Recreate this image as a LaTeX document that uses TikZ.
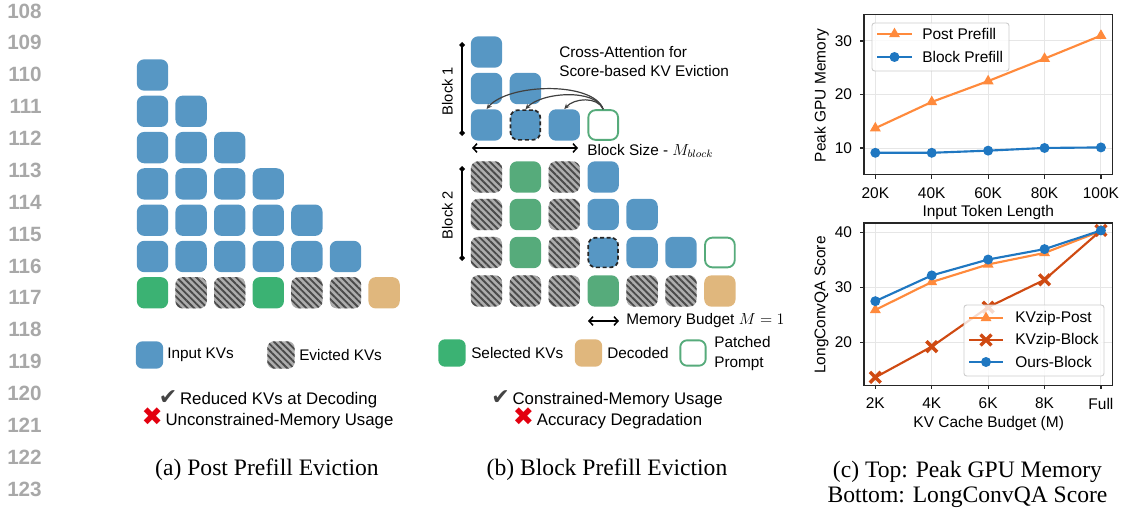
\documentclass[tikz,border=0pt]{standalone}
\usepackage{fontspec}
\setmainfont{Liberation Serif}
\setsansfont{Liberation Sans}
\newfontfamily\symfont{DejaVu Sans}
\usetikzlibrary{arrows.meta, patterns.meta, shapes.geometric, shapes.misc}

\definecolor{kvblue}{HTML}{5797C4}
\definecolor{selgreen}{HTML}{3BB273}
\definecolor{blkgreen}{HTML}{56AB7B}
\definecolor{dectan}{HTML}{E0B77D}
\definecolor{hatchbg}{HTML}{ADADAD}
\definecolor{hatchfg}{HTML}{4A4A4A}
\definecolor{lnogray}{HTML}{A8A8A8}
\definecolor{okgray}{HTML}{444444}
\definecolor{badred}{HTML}{E3000F}
\definecolor{plorange}{HTML}{FF8A3C}
\definecolor{plblue}{HTML}{1F77C1}
\definecolor{plred}{HTML}{CF4A12}
\definecolor{gridgray}{HTML}{E6E6E6}

\newcommand{\okmark}{{\symfont\fontsize{16.5}{15}\selectfont\color{okgray}✔}}
\newcommand{\badmark}{{\symfont\fontsize{19}{15}\selectfont\color{badred}✖}}

\tikzset{
  kv/.style={rectangle, rounded corners=5.5pt, minimum size=23.5pt, inner sep=0pt},
  inkv/.style={kv, fill=kvblue},
  selkv/.style={kv, fill=selgreen},
  blkkv/.style={kv, fill=blkgreen},
  deckv/.style={kv, fill=dectan},
  evkv/.style={kv, preaction={fill=hatchbg},
    pattern={Lines[angle=-45,distance=3.5pt,line width=1.4pt]}, pattern color=hatchfg},
  dashkv/.style={kv, minimum size=22.3pt, fill=kvblue, draw=black!85, line width=1.3pt,
    dash pattern=on 3pt off 2pt},
  patchkv/.style={kv, minimum size=22.3pt, fill=white, draw=blkgreen, line width=1.4pt},
  legkv/.style={minimum size=20.5pt, rounded corners=5pt},
  lbl/.style={font=\sffamily\fontsize{11.5}{14.5}\selectfont, inner sep=0pt},
  chk/.style={font=\sffamily\fontsize{12.6}{15}\selectfont, inner sep=0pt, anchor=base},
  captxt/.style={font=\rmfamily\fontsize{17.7}{19.5}\selectfont, inner sep=0pt},
  lineno/.style={font=\sffamily\bfseries\fontsize{15.5}{17}\selectfont, text=lnogray, inner sep=0pt},
  blockbar/.style={{Diamond[length=4.5pt,width=4.5pt]}-{Diamond[length=4.5pt,width=4.5pt]}, line width=0.9pt},
  sizearrow/.style={{Straight Barb[length=3pt,width=6.5pt]}-{Straight Barb[length=3pt,width=6.5pt]}, line width=1.1pt},
  attn/.style={-{Stealth[length=4pt,width=3.5pt]}, draw=black!75, line width=0.9pt},
  % plot styles
  plotlbl/.style={font=\sffamily\fontsize{11.6}{13.5}\selectfont, inner sep=0pt},
  gridline/.style={draw=gridgray, line width=0.7pt},
  axisline/.style={draw=black!85, line width=0.9pt},
  legbox/.style={draw=black!20, fill=white, fill opacity=0.8, rounded corners=2pt, line width=0.7pt},
  postline/.style={draw=plorange, line width=1.6pt},
  blockline/.style={draw=plblue, line width=1.6pt},
  kvbline/.style={draw=plred, line width=1.6pt},
  trimark/.style={regular polygon, regular polygon sides=3, minimum size=9.5pt, inner sep=0pt, fill=plorange},
  dotmark/.style={circle, minimum size=7.5pt, inner sep=0pt, fill=plblue},
  xmark/.style={cross out, draw=plred, line width=2.6pt, minimum size=5.5pt, inner sep=0pt}
}

\begin{document}
\begin{tikzpicture}[x=0.75pt, y=-0.75pt]
\useasboundingbox (0,0) rectangle (1121,510);

% line numbers
\foreach \n [count=\k from 0] in {108,...,123}
  \node[lineno, anchor=east] (ln-\n) at (42,{11+31.87*\k}) {\n};

% (a) post prefill eviction
\foreach \r in {1,...,6}
  \foreach \c in {1,...,\r}
    \node[inkv] (a-\r-\c) at ({152.5+38.6*(\c-1)},{75+36.3*(\r-1)}) {};
\foreach \s [count=\c] in {selkv,evkv,evkv,selkv,evkv,evkv,deckv}
  \node[\s] (a-7-\c) at ({152.5+38.6*(\c-1)},292.8) {};

\node[legkv, fill=kvblue] (leg-in) at (149.5,355) {};
\node[lbl, anchor=west] (leg-in-t) at (167,355) {Input KVs};
\node[evkv, legkv] (leg-ev) at (281,355) {};
\node[lbl, anchor=west] (leg-ev-t) at (299,355) {Evicted KVs};

\node[chk] (a-pro) at (268,404) {\okmark\,Reduced KVs at Decoding};
\node[chk] (a-con) at (267.5,425) {\badmark\,Unconstrained-Memory Usage};
\node[captxt, anchor=base] (cap-a) at (267,475) {(a) Post Prefill Eviction};

% (b) block prefill eviction
\node[inkv]    (b1-1-1) at (486.5,52) {};
\node[inkv]    (b1-2-1) at (486.5,88.5) {};
\node[inkv]    (b1-2-2) at (525.4,88.5) {};
\node[inkv]    (b1-3-1) at (486.5,125) {};
\node[dashkv]  (b1-3-2) at (525.4,125) {};
\node[inkv]    (b1-3-3) at (564.3,125) {};
\node[patchkv] (b1-3-4) at (603.2,125) {};

\foreach \s [count=\c] in {evkv,blkkv,evkv,inkv}
  \node[\s] (b2-1-\c) at ({486.5+38.9*(\c-1)},177) {};
\foreach \s [count=\c] in {evkv,blkkv,evkv,inkv,inkv}
  \node[\s] (b2-2-\c) at ({486.5+38.9*(\c-1)},214.5) {};
\foreach \s [count=\c] in {evkv,blkkv,evkv,dashkv,inkv,inkv,patchkv}
  \node[\s] (b2-3-\c) at ({486.5+38.9*(\c-1)},252.5) {};
\foreach \s [count=\c] in {evkv,evkv,evkv,blkkv,evkv,evkv,deckv}
  \node[\s] (b2-4-\c) at ({486.5+38.9*(\c-1)},291) {};

\draw[attn] (b1-3-4.north) .. controls +(-10,-28) and +(22,-26) .. (b1-3-1.north);
\draw[attn] (b1-3-4.north) .. controls +(-8,-21) and +(16,-17) .. (b1-3-2.north);
\draw[attn] (b1-3-4.north) .. controls +(-6,-13) and +(10,-11) .. (b1-3-3.north);
\node[lbl, anchor=west, align=left] (ca-t) at (559,61.5) {Cross-Attention for\\Score-based KV Eviction};

\coordinate (b1-top) at (462,42);
\coordinate (b1-bot) at (462,136);
\draw[blockbar] (b1-top) -- (b1-bot);
\node[lbl, font=\sffamily\fontsize{11}{13}\selectfont, rotate=90] (b1-lbl) at (447.5,91) {Block 1};
\coordinate (b2-top) at (462,166);
\coordinate (b2-bot) at (462,261);
\draw[blockbar] (b2-top) -- (b2-bot);
\node[lbl, font=\sffamily\fontsize{11}{13}\selectfont, rotate=90] (b2-lbl) at (447.5,215) {Block 2};

\coordinate (bs-l) at (472,148);
\coordinate (bs-r) at (578,148);
\draw[sizearrow] (bs-l) -- (bs-r);
\node[lbl, anchor=west] (bs-t) at (587,151) {Block Size - $M_{block}$};
\coordinate (mb-l) at (588,321);
\coordinate (mb-r) at (619,321);
\draw[sizearrow] (mb-l) -- (mb-r);
\node[lbl, anchor=west] (mb-t) at (626,321) {Memory Budget $M=1$};

\node[legkv, fill=selgreen] (leg-sel) at (452,353) {};
\node[lbl, anchor=west] (leg-sel-t) at (471,353) {Selected KVs};
\node[legkv, fill=dectan] (leg-dec) at (588.5,353) {};
\node[lbl, anchor=west] (leg-dec-t) at (607,353) {Decoded};
\node[legkv, minimum size=19pt, fill=white, draw=blkgreen, line width=1.4pt] (leg-pat) at (693,353) {};
\node[lbl, anchor=west, align=left] (leg-pat-t) at (714,353.5) {Patched\\Prompt};

\node[chk] (b-pro) at (607,404) {\okmark\,Constrained-Memory Usage};
\node[chk] (b-con) at (607.5,425) {\badmark\,Accuracy Degradation};
\node[captxt, anchor=base] (cap-b) at (607,475) {(b) Block Prefill Eviction};

% (c) top: peak gpu memory
\begin{scope}[xshift=656.5pt, yshift=-151.1pt, x=42.3pt, y=4.0125pt]
  \foreach \i in {0,...,4} \draw[gridline] (\i,5) -- (\i,35);
  \foreach \v in {10,20,30} \draw[gridline] (-0.2,\v) -- (4.2,\v);
  \draw[postline] (0,13.7) -- (1,18.6) -- (2,22.5) -- (3,26.7) -- (4,31);
  \foreach \v [count=\i from 0] in {13.7,18.6,22.5,26.7,31}
    \node[trimark] (pp-\i) at (\i,\v) {};
  \draw[blockline] (0,9.1) -- (1,9.1) -- (2,9.5) -- (3,10) -- (4,10.1);
  \foreach \v [count=\i from 0] in {9.1,9.1,9.5,10,10.1}
    \node[dotmark] (bp-\i) at (\i,\v) {};
  \draw[axisline] (-0.2,5) rectangle (4.2,35);
  \foreach \t [count=\i from 0] in {20K,40K,60K,80K,100K} {
    \draw[axisline] (\i,5) -- ++(0pt,-3pt);
    \node[plotlbl, anchor=north, yshift=-9.3pt] (tx-\i) at (\i,5) {\t};
  }
  \foreach \v in {10,20,30} {
    \draw[axisline] (-0.2,\v) -- ++(-3pt,0pt);
    \node[plotlbl, anchor=east, xshift=-8.8pt] (ty-\v) at (-0.2,\v) {\v};
  }
\end{scope}
\node[plotlbl] (xl-top) at (988.3,212) {Input Token Length};
\node[plotlbl, rotate=90] (yl-top) at (821.5,95.5) {Peak GPU Memory};
\draw[legbox] (872,23) rectangle (1009,71);
\draw[postline] (877,34) -- (912,34);
\node[trimark] (lg-pp) at (894.5,34) {};
\node[plotlbl, anchor=west] (lg-pp-t) at (922,34) {Post Prefill};
\draw[blockline] (877,57) -- (912,57);
\node[dotmark] (lg-bp) at (894.5,57) {};
\node[plotlbl, anchor=west] (lg-bp-t) at (922,57) {Block Prefill};

% (c) bottom: longconvqa score
\begin{scope}[xshift=656.5pt, yshift=-338.9pt, x=42.3pt, y=4.11pt]
  \foreach \i in {0,...,4} \draw[gridline] (\i,12.15) -- (\i,41.75);
  \foreach \v in {20,30,40} \draw[gridline] (-0.2,\v) -- (4.2,\v);
  \draw[postline] (0,25.9) -- (1,31.0) -- (2,34.2) -- (3,36.3) -- (4,40.3);
  \foreach \v [count=\i from 0] in {25.9,31.0,34.2,36.3,40.3}
    \node[trimark] (kp-\i) at (\i,\v) {};
  \draw[kvbline] (0,13.6) -- (1,19.2) -- (2,26.4) -- (3,31.4) -- (4,40.4);
  \foreach \v [count=\i from 0] in {13.6,19.2,26.4,31.4,40.4}
    \node[xmark] (kb-\i) at (\i,\v) {};
  \draw[blockline] (0,27.5) -- (1,32.2) -- (2,35.1) -- (3,37.0) -- (4,40.4);
  \foreach \v [count=\i from 0] in {27.5,32.2,35.1,37.0,40.4}
    \node[dotmark] (ob-\i) at (\i,\v) {};
  \draw[axisline] (-0.2,12.15) rectangle (4.2,41.75);
  \foreach \t [count=\i from 0] in {2K,4K,6K,8K,Full} {
    \draw[axisline] (\i,12.15) -- ++(0pt,-3pt);
    \node[plotlbl, anchor=north, yshift=-9.3pt] (bx-\i) at (\i,12.15) {\t};
  }
  \foreach \v in {20,30,40} {
    \draw[axisline] (-0.2,\v) -- ++(-3pt,0pt);
    \node[plotlbl, anchor=east, xshift=-8.8pt] (by-\v) at (-0.2,\v) {\v};
  }
\end{scope}
\node[plotlbl] (xl-bot) at (988.7,423) {KV Cache Budget (M)};
\node[plotlbl, rotate=90] (yl-bot) at (821.5,305) {LongConvQA Score};
\draw[legbox] (964,305) rectangle (1104,376);
\draw[postline] (969,318) -- (1003,318);
\node[trimark] (lg-kp) at (986,318) {};
\node[plotlbl, anchor=west] (lg-kp-t) at (1015,318) {KVzip-Post};
\draw[kvbline] (969,340) -- (1003,340);
\node[xmark] (lg-kb) at (986,340) {};
\node[plotlbl, anchor=west] (lg-kb-t) at (1015,340) {KVzip-Block};
\draw[blockline] (969,362) -- (1003,362);
\node[dotmark] (lg-ob) at (986,362) {};
\node[plotlbl, anchor=west] (lg-ob-t) at (1015,362) {Ours-Block};

\node[captxt, anchor=base] (cap-c1) at (967.5,477) {(c) Top: Peak GPU Memory};
\node[captxt, anchor=base] (cap-c2) at (967.5,502) {Bottom: LongConvQA Score};
\end{tikzpicture}
\end{document}
